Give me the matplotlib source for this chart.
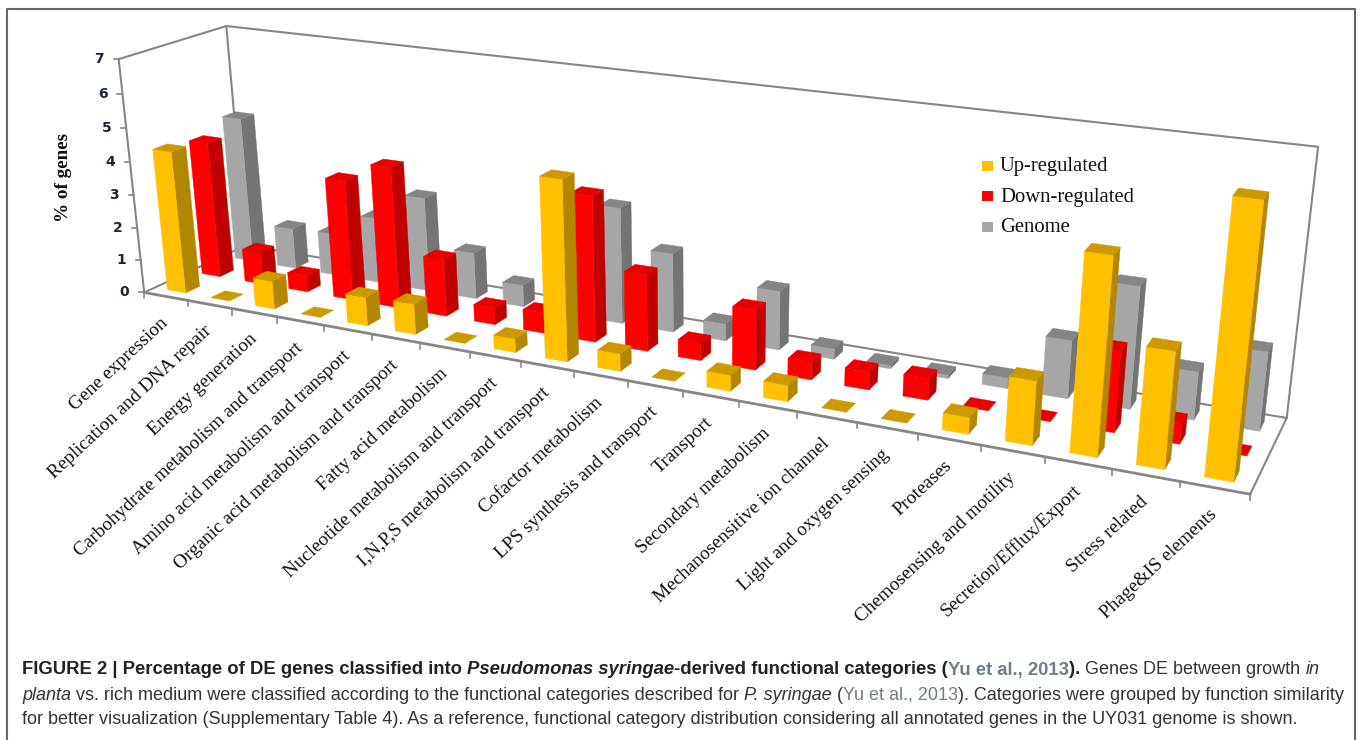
import numpy as np
import matplotlib
matplotlib.use("Agg")
import matplotlib.pyplot as plt
from matplotlib.patches import Polygon, Rectangle

categories = ["Gene expression", "Replication and DNA repair", "Energy generation",
              "Carbohydrate metabolism and transport", "Amino acid metabolism and transport",
              "Organic acid metabolism and transport", "Fatty acid metabolism",
              "Nucleotide metabolism and transport", "I,N,P,S metabolism and transport",
              "Cofactor metabolism", "LPS synthesis and transport", "Transport",
              "Secondary metabolism", "Mechanosensitive ion channel", "Light and oxygen sensing",
              "Proteases", "Chemosensing and motility", "Secretion/Efflux/Export",
              "Stress related", "Phage&IS elements"]
up_regulated = [4.3, 0, 0.85, 0, 0.85, 0.9, 0, 0.4, 5.1, 0.5, 0, 0.45, 0.45, 0, 0, 0.45, 1.7, 5.1, 3.0, 6.85]
down_regulated = [4.15, 1.0, 0.5, 3.6, 4.2, 1.7, 0.5, 0.6, 4.2, 2.2, 0.5, 1.7, 0.5, 0.5, 0.6, 0, 0, 2.15, 0.55, 0]
genome = [4.5, 1.25, 1.3, 2.0, 2.85, 1.4, 0.65, 0.9, 3.4, 2.3, 0.5, 1.7, 0.3, 0.1, 0.1, 0.3, 1.6, 3.3, 1.3, 2.1]
series_names = ["Up-regulated", "Down-regulated", "Genome"]
y_ticks = [0, 1, 2, 3, 4, 5, 6, 7]

face_colors = ["#FFC000", "#FF0000", "#A6A6A6"]
side_colors = ["#B38600", "#C00000", "#747474"]
top_colors = ["#CC9900", "#E60000", "#858585"]
axis_color = "#868686"

# where the box corners land on the page, (x, depth, height) -> pixel
box_corners = [((0, 0, 0), (145, 292)), ((1, 0, 0), (1250, 495)), ((0, 1, 0), (245, 246)),
               ((1, 1, 0), (1287, 417)), ((0, 0, 1), (118, 59)), ((0, 1, 1), (227, 26)),
               ((1, 1, 1), (1318, 147))]


def fit_projection(corners):
    rows = []
    for (x, y, z), (u, v) in corners:
        rows.append([x, y, z, 1, 0, 0, 0, 0, -u*x, -u*y, -u*z, -u])
        rows.append([0, 0, 0, 0, x, y, z, 1, -v*x, -v*y, -v*z, -v])
    _, _, vt = np.linalg.svd(np.array(rows, dtype=float))
    return vt[-1].reshape(3, 4)


P = fit_projection(box_corners)


def project(x, y, z):
    u, v, w = P.dot([x, y, z, 1.0])
    return u/w, v/w


fig = plt.figure(figsize=(13.6, 7.4), dpi=100)
ax = fig.add_axes([0, 0, 1, 1])
ax.set_xlim(0, 1360)
ax.set_ylim(740, 0)
ax.axis("off")
n_cat = len(categories)
y_max = float(y_ticks[-1])


def axis_line(a, b, lw=1.5):
    pa = project(*a)
    pb = project(*b)
    ax.plot([pa[0], pb[0]], [pa[1], pb[1]], color=axis_color, lw=lw, solid_capstyle="round", zorder=1)


def draw_bar(cat, row, value, k):
    x0 = (cat + 0.29) / n_cat
    x1 = (cat + 0.71) / n_cat
    y0 = (row + 0.3) / 3.0
    y1 = (row + 0.7) / 3.0
    z = value / y_max
    if value > 0:
        side = [project(x1, y0, 0), project(x1, y1, 0), project(x1, y1, z), project(x1, y0, z)]
        front = [project(x0, y0, 0), project(x1, y0, 0), project(x1, y0, z), project(x0, y0, z)]
        ax.add_patch(Polygon(side, closed=True, fc=side_colors[k], ec=side_colors[k], lw=0.3, zorder=2))
        ax.add_patch(Polygon(front, closed=True, fc=face_colors[k], ec=face_colors[k], lw=0.3, zorder=2))
    top = [project(x0, y0, z), project(x1, y0, z), project(x1, y1, z), project(x0, y1, z)]
    ax.add_patch(Polygon(top, closed=True, fc=top_colors[k], ec=top_colors[k], lw=0.3, zorder=2))


# walls and floor outline
axis_line((0, 0, 0), (1, 0, 0), 2)
axis_line((0, 0, 0), (0, 1, 0))
axis_line((0, 1, 0), (1, 1, 0))
axis_line((1, 0, 0), (1, 1, 0))
axis_line((0, 0, 0), (0, 0, 1))
axis_line((0, 1, 0), (0, 1, 1))
axis_line((0, 0, 1), (0, 1, 1))
axis_line((0, 1, 1), (1, 1, 1))
axis_line((1, 1, 0), (1, 1, 1))

for i in range(n_cat + 1):
    px, py = project(i / float(n_cat), 0, 0)
    ax.plot([px, px], [py, py + 6], color=axis_color, lw=1.2, zorder=1)

for t in y_ticks:
    px, py = project(0, 0, t / y_max)
    ax.plot([px - 5, px], [py, py], color=axis_color, lw=1.2, zorder=1)
    ax.text(px - 15, py, str(t), ha="right", va="center", fontsize=10, fontweight="bold",
            family="DejaVu Sans", color="#1a2238")

# back row first, so the front rows cover it
rows = [up_regulated, down_regulated, genome]
for row in [2, 1, 0]:
    for cat in range(n_cat):
        draw_bar(cat, row, rows[row][cat], row)

for i, name in enumerate(categories):
    px, py = project((i + 0.5) / n_cat, 0, 0)
    ax.text(px - 6, py + 18, name, rotation=43, rotation_mode="anchor", ha="right", va="top",
            fontsize=13.9, family="Liberation Serif", color="#111111")

ax.text(63, 177, "% of genes", rotation=90, ha="center", va="center", fontsize=13.8,
        fontweight="bold", family="Liberation Serif", color="#111111")

for i, name in enumerate(series_names):
    ly = 165.5 + 30.5 * i
    ax.add_patch(Rectangle((982, ly - 5), 11, 10, fc=face_colors[i], ec="none", zorder=3))
    ax.text(1000, ly + 1.5, name, ha="left", va="center", fontsize=14.9, family="Liberation Serif", color="#111111")

# grey frame around the figure
ax.plot([7, 7, 1355, 1355], [740, 9, 9, 740], color="#666666", lw=1.5, zorder=0)

caption = [
    (22, 670, [("FIGURE 2 | Percentage of DE genes classified into ", "bold", "normal", "#222222"),
               ("Pseudomonas syringae", "bold", "italic", "#222222"),
               ("-derived functional categories (", "bold", "normal", "#222222"),
               ("Yu et al., 2013", "bold", "normal", "#6f7d88"),
               ("). ", "bold", "normal", "#222222"),
               ("Genes DE between growth ", "normal", "normal", "#333333"),
               ("in", "normal", "italic", "#333333")]),
    (22, 695, [("planta", "normal", "italic", "#333333"),
               (" vs. rich medium were classified according to the functional categories described for ", "normal", "normal", "#333333"),
               ("P. syringae", "normal", "italic", "#333333"),
               (" (", "normal", "normal", "#333333"),
               ("Yu et al., 2013", "normal", "normal", "#6f7d88"),
               ("). Categories were grouped by function similarity", "normal", "normal", "#333333")]),
    (22, 719, [("for better visualization (Supplementary Table 4). As a reference, functional category distribution considering all annotated genes in the UY031 genome is shown.", "normal", "normal", "#333333")]),
]

renderer = fig.canvas.get_renderer()
for x_start, y_line, runs in caption:
    x_pos = x_start
    for text, weight, style, color in runs:
        size = 13.3 if weight == "bold" else 13.0
        t = ax.text(x_pos, y_line, text + "|", fontsize=size, family="Liberation Sans", fontweight=weight,
                    fontstyle=style, color=color, va="center", ha="left")
        full = t.get_window_extent(renderer).width
        t.set_text("|")
        bar_w = t.get_window_extent(renderer).width
        t.set_text(text)
        x_pos += full - bar_w

fig.savefig("out.png", dpi=100)
